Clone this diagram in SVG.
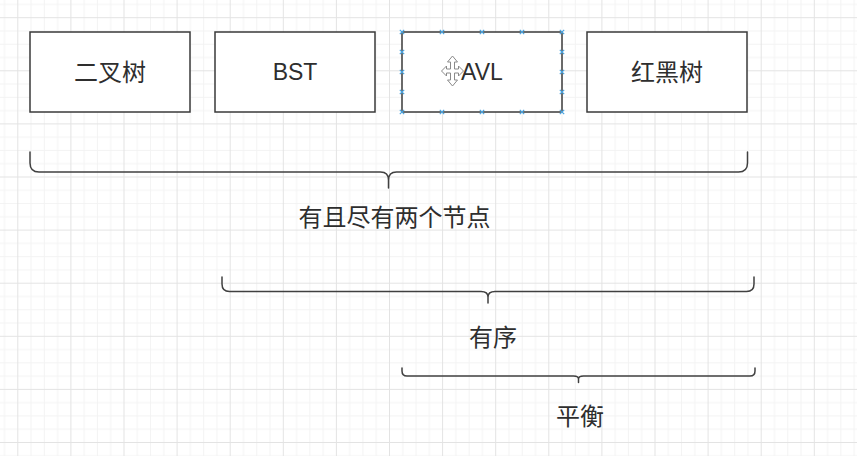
<svg xmlns="http://www.w3.org/2000/svg" width="857" height="456" viewBox="0 0 857 456">
  <style>
    .box { fill: #ffffff; stroke: #3a3a3a; stroke-width: 1.5; }
    .t { font-family: "Liberation Sans", "Noto Sans CJK SC", sans-serif; font-size: 23px; fill: #2e2e2e; text-anchor: middle; dominant-baseline: central; }
    .cjk { font-size: 24px; }
    .brace { fill: none; stroke: #404040; stroke-width: 1.5; stroke-linecap: round; stroke-linejoin: round; }
    .hd { fill: none; stroke: #4aa3df; stroke-width: 1.2; }
  </style>
  <defs>
    <pattern id="grid" x="17.3" y="17.2" width="53.1" height="53.1" patternUnits="userSpaceOnUse">
      <rect x="13.27" y="0" width="1" height="53.1" fill="#f3f3f3"/>
      <rect x="26.55" y="0" width="1" height="53.1" fill="#f3f3f3"/>
      <rect x="39.82" y="0" width="1" height="53.1" fill="#f3f3f3"/>
      <rect x="0" y="13.27" width="53.1" height="1" fill="#f3f3f3"/>
      <rect x="0" y="26.55" width="53.1" height="1" fill="#f3f3f3"/>
      <rect x="0" y="39.82" width="53.1" height="1" fill="#f3f3f3"/>
      <rect x="0" y="0" width="1" height="53.1" fill="#e3e3e3"/>
      <rect x="0" y="0" width="53.1" height="1" fill="#e3e3e3"/>
    </pattern>
    <path id="h" class="hd" d="M-2.2,-2.2 L2.2,2.2 M-2.2,2.2 L2.2,-2.2"/>
  </defs>

  <rect x="0" y="0" width="857" height="456" fill="#ffffff"/>
  <rect x="0" y="0" width="857" height="456" fill="url(#grid)"/>

  <g id="node-binary-tree">
    <rect class="box" x="30" y="32" width="160" height="80"/>
    <text class="t cjk" x="110" y="72.5">二叉树</text>
  </g>
  <g id="node-bst">
    <rect class="box" x="215" y="32" width="160" height="80"/>
    <text class="t" x="295" y="72">BST</text>
  </g>
  <g id="node-avl">
    <rect class="box" x="402" y="32" width="160" height="80"/>
    <text class="t" x="482" y="72">AVL</text>
    <g id="avl-handles">
      <use href="#h" x="402" y="32"/><use href="#h" x="442" y="32"/><use href="#h" x="482" y="32"/><use href="#h" x="522" y="32"/><use href="#h" x="562" y="32"/>
      <use href="#h" x="402" y="112"/><use href="#h" x="442" y="112"/><use href="#h" x="482" y="112"/><use href="#h" x="522" y="112"/><use href="#h" x="562" y="112"/>
      <use href="#h" x="402" y="52"/><use href="#h" x="402" y="72"/><use href="#h" x="402" y="92"/>
      <use href="#h" x="562" y="52"/><use href="#h" x="562" y="72"/><use href="#h" x="562" y="92"/>
    </g>
    <path id="move-cursor" transform="translate(452.5,71)" fill="#ffffff" stroke="#8a8a8a" stroke-width="1" stroke-linejoin="round"
      d="M-2,-9 L-5,-9 L0,-15 L5,-9 L2,-9 L2,-2 L6,-2 L6,-5 L11,0 L6,5 L6,2 L2,2 L2,9 L5,9 L0,15 L-5,9 L-2,9 L-2,2 L-6,2 L-6,5 L-11,0 L-6,-5 L-6,-2 L-2,-2 Z"/>
  </g>
  <g id="node-red-black-tree">
    <rect class="box" x="587" y="32" width="160" height="80"/>
    <text class="t cjk" x="667" y="72.5">红黑树</text>
  </g>

  <g id="connectors">
    <path id="brace-all" class="brace" d="M30,152 L30,163 Q30,172 39,172 L380.5,172 Q388.5,172 388.5,180 L388.5,188 M388.5,180 Q388.5,172 396.5,172 L738.5,172 Q747.5,172 747.5,163 L747.5,152"/>
    <path id="brace-ordered" class="brace" d="M222,277 L222,284 Q222,291.5 229.5,291.5 L481,291.5 Q488,291.5 488,297 L488,303 M488,297 Q488,291.5 495,291.5 L746.5,291.5 Q754,291.5 754,284 L754,277"/>
    <path id="brace-balanced" class="brace" d="M402,368 L402,371 Q402,376 407,376 L573.5,376 Q578.5,376 578.5,379 L578.5,382.5 M578.5,379 Q578.5,376 583.5,376 L750,376 Q755,376 755,371 L755,368"/>
  </g>

  <g id="label-two-children">
    <text class="t cjk" x="394.5" y="217.5">有且尽有两个节点</text>
  </g>
  <g id="label-ordered">
    <text class="t cjk" x="493" y="337.5">有序</text>
  </g>
  <g id="label-balanced">
    <text class="t cjk" x="580" y="416">平衡</text>
  </g>
</svg>
